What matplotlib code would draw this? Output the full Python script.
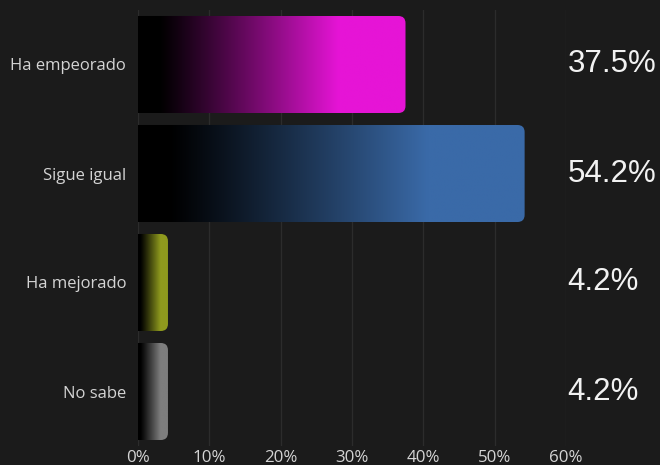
import numpy as np
import matplotlib
matplotlib.use("Agg")
import matplotlib.pyplot as plt
from matplotlib.patches import FancyBboxPatch
from matplotlib.colors import to_rgb

# datos
categorias = ["Ha empeorado", "Sigue igual", "Ha mejorado", "No sabe"]
valores = [37.5, 54.2, 4.2, 4.2]
etiquetas = ["37.5%", "54.2%", "4.2%", "4.2%"]
colores = ["#e614d6", "#3a6aa8", "#8f9a1e", "#7e7e7e"]
ticks_x = [0, 10, 20, 30, 40, 50, 60]

fondo = "#1b1b1b"

fig = plt.figure(figsize=(6.6, 4.65), dpi=100, facecolor=fondo)
ax = fig.add_axes([138 / 660, 1 - 446 / 465, (566 - 138) / 660, 436 / 465])
ax.set_facecolor(fondo)

# lineas de la grilla
for t in ticks_x:
    ax.axvline(t, color="#2c2c2c", linewidth=0.9, zorder=0)

alto = 0.89
px_x = 428 / 60
px_y = 436 / 4
aspecto = (1 / px_y) / (1 / px_x)
for i, (v, c) in enumerate(zip(valores, colores)):
    rgb = np.array(to_rgb(c))
    t = np.linspace(0, 1, 256)
    t = np.clip((t - 0.08) / 0.67, 0, 1) ** 1.1
    grad = (t[:, None] * rgb[None, :])[None, :, :]
    caja = FancyBboxPatch((-2, i - alto / 2), v + 2, alto,
                          boxstyle="round,pad=0,rounding_size=1.0",
                          mutation_aspect=aspecto, facecolor="none",
                          edgecolor="none", transform=ax.transData)
    ax.add_patch(caja)
    im = ax.imshow(grad, extent=[0, v, i + alto / 2, i - alto / 2],
                   aspect="auto", interpolation="bilinear", zorder=2)
    im.set_clip_path(caja)
    ax.text(60.2, i, etiquetas[i], ha="left", va="center", fontsize=22.5,
            color="#f2f2f2", family="Liberation Sans", clip_on=False)

ax.set_xlim(0, 60)
ax.set_ylim(len(categorias) - 0.5, -0.5)
ax.set_yticks(range(len(categorias)))
ax.set_yticklabels(categorias, family="Open Sans", fontsize=12, color="#d4d4d4")
ax.set_xticks(ticks_x)
ax.set_xticklabels([f"{t}%" for t in ticks_x], family="Open Sans", fontsize=12.2,
                   color="#d4d4d4")
ax.tick_params(length=0, pad=8.5, axis="y")
ax.tick_params(length=0, pad=3, axis="x")
for s in ax.spines.values():
    s.set_visible(False)

fig.savefig("out.png", dpi=100, facecolor=fondo)
